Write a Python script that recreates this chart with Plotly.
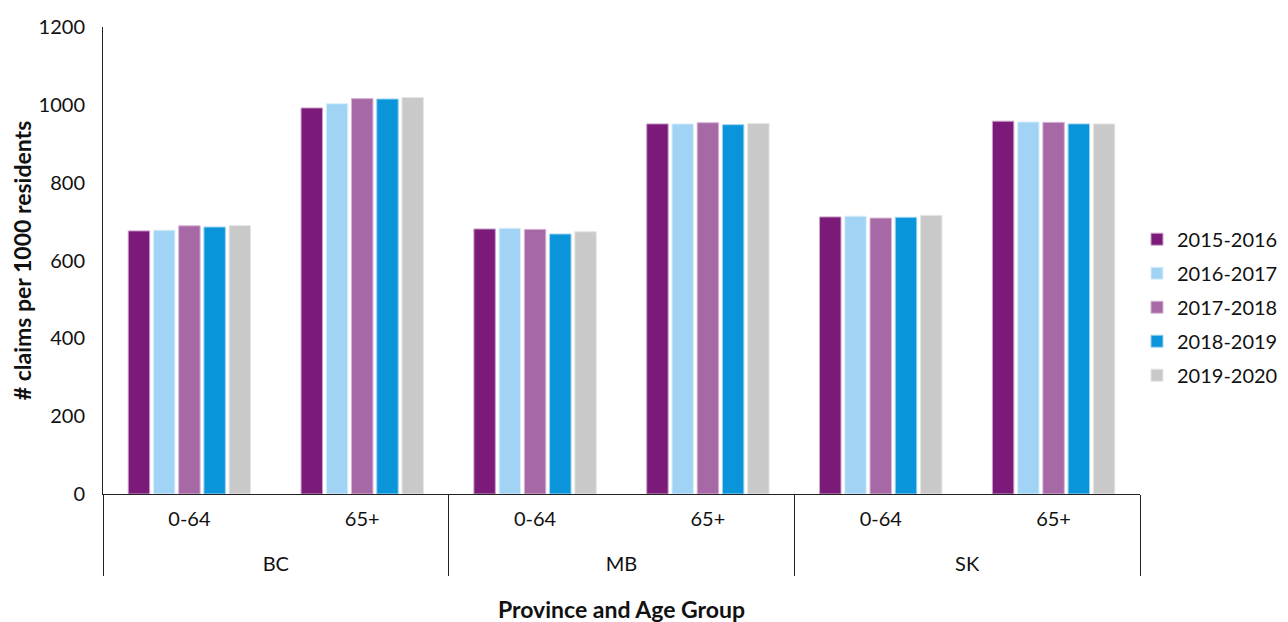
import plotly.graph_objects as go

provinces = ["BC", "BC", "MB", "MB", "SK", "SK"]
age_groups = ["0-64", "65+", "0-64", "65+", "0-64", "65+"]
series_names = ["2015-2016", "2016-2017", "2017-2018", "2018-2019", "2019-2020"]
colors = ["#7B1A78", "#A1D3F4", "#A768A6", "#0A95DB", "#C9C9C9"]
line_colors = ["#C9A2C8", "#DCEFFB", "#D6B4D5", "#9BD2F0", "#E6E6E6"]

v_2015_2016 = [676, 992, 681, 951, 712, 958]
v_2016_2017 = [678, 1003, 683, 951, 714, 956]
v_2017_2018 = [689, 1016, 680, 954, 709, 955]
v_2018_2019 = [686, 1015, 668, 949, 711, 951]
v_2019_2020 = [690, 1019, 674, 952, 716, 951]
values = [v_2015_2016, v_2016_2017, v_2017_2018, v_2018_2019, v_2019_2020]

font_family = "Lato, 'Open Sans', sans-serif"

# an empty second line below each age label pushes the province row down
age_labels = [a + "<br>\u00a0" for a in age_groups]

fig = go.Figure()
for name, vals, c, lc in zip(series_names, values, colors, line_colors):
    fig.add_trace(go.Bar(
        x=[provinces, age_labels],
        y=vals,
        name=name,
        legendgroup=name,
        marker=dict(color=c, line=dict(color=lc, width=1)),
    ))

fig.update_layout(
    width=1280, height=614,
    margin=dict(l=95, r=148, t=19, b=128, autoexpand=False),
    paper_bgcolor="white", plot_bgcolor="white",
    barmode="group", bargap=0.27, bargroupgap=0.15,
    font=dict(family=font_family, size=20, color="#111111"),
    legend=dict(x=0.9971, y=0.40, xanchor="left", yanchor="middle",
                font=dict(size=20), tracegroupgap=5, bgcolor="rgba(0,0,0,0)"),
    showlegend=True,
)
fig.update_yaxes(
    range=[0, 1200], dtick=200, showgrid=False, zeroline=False,
    showline=True, linecolor="#222222", linewidth=1, automargin=False,
    ticks="", tickfont=dict(size=20), ticklabelstandoff=13,
    title=dict(text="<b># claims per 1000 residents</b>", font=dict(size=23), standoff=10),
)
fig.update_xaxes(
    type="multicategory", showgrid=False, showline=True, linecolor="#222222", linewidth=1,
    showdividers=True, dividercolor="#222222", dividerwidth=1, automargin=False,
    tickfont=dict(size=20), ticks="outside", ticklen=4, tickcolor="rgba(0,0,0,0)",
    ticklabelstandoff=7,
    title=dict(text="<b>Province and Age Group</b>", font=dict(size=23), standoff=27),
)

fig.write_html("out.html")
